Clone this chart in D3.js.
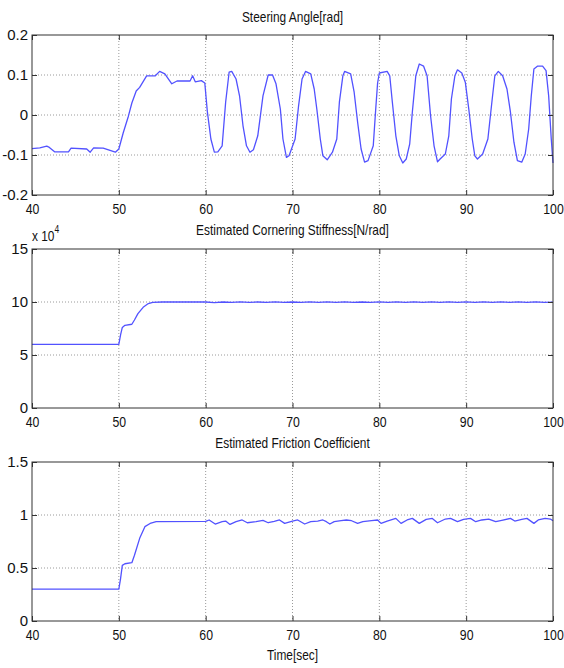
<!DOCTYPE html>
<html><head><meta charset="utf-8">
<script src="https://cdn.jsdelivr.net/npm/d3@7"></script>
<style>body{margin:0;background:#fff}svg{display:block}</style>
</head><body>
<script>
// ---- data ----
const steerT = [40,40.9,41.7,42.0,42.6,44.2,44.5,46.3,46.7,47.1,48.2,49.6,50.0,50.5,51.1,51.5,52.0,52.4,53.2,54.2,54.7,55.3,56.1,56.7,58.2,58.5,58.8,59.5,59.9,
 60.2,60.6,61.0,61.4,61.9,62.3,62.7,63.0,63.5,63.9,64.3,64.7,65.1,65.5,66.0,66.6,67.2,67.7,68.1,68.6,68.9,69.3,69.6,
 70.3,70.7,71.1,71.5,72.1,72.5,72.8,73.2,73.5,74.0,74.6,75.1,75.4,75.8,76.0,76.7,77.1,77.5,77.9,78.3,78.7,79.3,79.6,79.8,
 80.0,80.9,81.2,81.5,81.9,82.3,82.7,83.1,83.5,83.8,84.2,84.6,85.1,85.5,85.9,86.3,86.7,87.0,87.6,88.0,88.3,88.7,89.0,89.5,89.9,
 90.3,90.7,91.0,91.3,91.9,92.5,93.0,93.3,93.7,94.2,94.7,95.1,95.5,95.9,96.4,96.8,97.2,97.5,97.8,98.2,98.8,99.2,99.5,99.8,100];
const steerV = [-0.084,-0.082,-0.078,-0.081,-0.092,-0.092,-0.083,-0.085,-0.093,-0.082,-0.083,-0.093,-0.085,-0.045,-0.003,0.03,0.06,0.069,0.098,0.098,0.109,0.103,0.078,0.085,0.085,0.098,0.083,0.086,0.08,
 0.007,-0.06,-0.093,-0.092,-0.077,0.032,0.107,0.109,0.09,0.048,-0.027,-0.077,-0.093,-0.087,-0.052,0.048,0.1,0.1,0.078,0.015,-0.06,-0.106,-0.102,
 -0.06,0.023,0.09,0.109,0.103,0.065,0.015,-0.06,-0.102,-0.112,-0.093,-0.06,0.032,0.098,0.109,0.103,0.057,-0.018,-0.085,-0.118,-0.114,-0.077,0.02,0.08,
 0.105,0.109,0.098,0.032,-0.052,-0.102,-0.12,-0.11,-0.072,0.007,0.098,0.1275,0.122,0.098,-0.002,-0.077,-0.117,-0.11,-0.0975,-0.052,0.04,0.098,0.113,0.105,0.082,
 0.015,-0.06,-0.102,-0.11,-0.0975,-0.06,0.04,0.098,0.109,0.098,0.065,0.007,-0.068,-0.114,-0.118,-0.0975,-0.035,0.048,0.115,0.122,0.122,0.111,0.048,-0.06,-0.12];

const stiffT = [40,50.0,50.2,50.4,50.7,51.5,51.8,52.2,52.8,53.4,53.9,55,58,60,61,62,63,64,65,66,67,68,69,70,71,72,73,74,75,76,77,78,79,80,81,82,83,84,85,86,87,88,89,90,91,92,93,94,95,96,97,98,99,100];
const stiffV = [6.0,6.0,6.9,7.6,7.8,7.9,8.3,8.9,9.5,9.85,9.97,10.0,10.0,10.0,9.95,10.0,9.96,10.02,9.97,10.0,9.96,10.02,9.97,10.0,9.96,10.02,9.97,10.01,9.96,10.02,9.97,10.0,9.96,10.02,9.97,10.01,9.96,10.02,9.97,10.01,9.96,10.02,9.97,10.01,9.96,10.02,9.97,10.01,9.96,10.02,9.97,10.01,9.96,9.98];

const fricT = [40,50.0,50.2,50.4,50.7,51.5,51.8,52.4,53.0,53.6,54.3,60.0,60.4,61.1,61.9,62.3,62.8,63.5,64.2,64.8,65.8,66.6,67.2,67.9,68.5,69.1,70,70.6,71.4,72.1,72.9,73.5,73.9,74.3,74.8,75.6,76.2,76.8,77.5,78.1,79.1,79.8,
 80.2,80.9,81.9,82.5,83.2,83.8,84.6,85.4,86.1,86.7,87.6,88.2,89,89.7,90.5,91.1,91.8,92.6,93.4,94.1,95.1,95.6,96.4,97,97.8,98.3,99.1,99.7,100];
const fricV = [0.3,0.3,0.40,0.525,0.54,0.55,0.62,0.78,0.89,0.92,0.937,0.94,0.953,0.915,0.937,0.943,0.911,0.937,0.953,0.927,0.937,0.949,0.927,0.94,0.953,0.921,0.943,0.953,0.915,0.937,0.943,0.953,0.937,0.915,0.937,0.946,0.953,0.946,0.921,0.937,0.946,0.953,
 0.921,0.943,0.968,0.921,0.953,0.968,0.921,0.959,0.968,0.927,0.962,0.968,0.937,0.959,0.968,0.937,0.953,0.962,0.937,0.949,0.968,0.943,0.959,0.968,0.921,0.953,0.968,0.962,0.946];

const xTicks = [40,50,60,70,80,90,100];
const steerTicks = [-0.2,-0.1,0,0.1,0.2];
const steerTickLabels = ["-0.2","-0.1","0","0.1","0.2"];
const stiffTicks = [0,5,10,15];
const stiffTickLabels = ["0","5","10","15"];
const fricTicks = [0,0.5,1,1.5];
const fricTickLabels = ["0","0.5","1","1.5"];
const titles = ["Steering Angle[rad]","Estimated Cornering Stiffness[N/rad]","Estimated Friction Coefficient"];
const xLabel = "Time[sec]";

// ---- drawing ----
const W = 564, H = 668, X0 = 32, X1 = 553;
const FONT = "'Liberation Sans', Arial, Helvetica, sans-serif";
const svg = d3.select("body").append("svg").attr("width", W).attr("height", H)
  .style("font-family", FONT);
const x = d3.scaleLinear().domain([40, 100]).range([X0, X1]);

function label(txt, cx, by, size, sx) {
  const g = svg.append("g").attr("transform", `translate(${cx},${by}) scale(${sx},1)`);
  g.append("text").attr("text-anchor", "middle").attr("font-size", size).attr("fill", "#111").text(txt);
  return g;
}

const panels = [
  {top: 35, bottom: 195, domain: [-0.2, 0.2], ticks: steerTicks, labels: steerTickLabels, t: steerT, v: steerV, title: titles[0], tb: 22},
  {top: 249, bottom: 408, domain: [0, 15], ticks: stiffTicks, labels: stiffTickLabels, t: stiffT, v: stiffV, title: titles[1], tb: 235},
  {top: 462, bottom: 621, domain: [0, 1.5], ticks: fricTicks, labels: fricTickLabels, t: fricT, v: fricV, title: titles[2], tb: 448}
];

panels.forEach(p => {
  const y = d3.scaleLinear().domain(p.domain).range([p.bottom, p.top]);
  const g = svg.append("g");
  g.selectAll(".vg").data(xTicks.slice(1, -1)).join("line")
    .attr("x1", d => x(d)).attr("x2", d => x(d)).attr("y1", p.top).attr("y2", p.bottom)
    .attr("stroke", "#9a9a9a").attr("stroke-width", 1).attr("stroke-dasharray", "1,2");
  g.selectAll(".hg").data(p.ticks.slice(1, -1)).join("line")
    .attr("x1", X0).attr("x2", X1).attr("y1", d => y(d)).attr("y2", d => y(d))
    .attr("stroke", "#9a9a9a").attr("stroke-width", 1).attr("stroke-dasharray", "1,2");

  g.append("path").datum(d3.zip(p.t, p.v))
    .attr("d", d3.line().x(d => x(d[0])).y(d => y(d[1])))
    .attr("fill", "none").attr("stroke", "#5252ff").attr("stroke-width", 1.3).attr("stroke-linejoin", "round");

  const ax = [
    g.append("g").attr("transform", `translate(0,${p.bottom})`)
      .call(d3.axisBottom(x).tickValues(xTicks).tickSizeInner(-5).tickSizeOuter(0).tickPadding(8).tickFormat(d3.format("d"))),
    g.append("g").attr("transform", `translate(0,${p.top})`)
      .call(d3.axisTop(x).tickValues(xTicks).tickSizeInner(-5).tickSizeOuter(0).tickFormat("")),
    g.append("g").attr("transform", `translate(${X0},0)`)
      .call(d3.axisLeft(y).tickValues(p.ticks).tickSizeInner(-5).tickSizeOuter(0).tickPadding(4).tickFormat((d, i) => p.labels[i])),
    g.append("g").attr("transform", `translate(${X1},0)`)
      .call(d3.axisRight(y).tickValues(p.ticks).tickSizeInner(-5).tickSizeOuter(0).tickFormat(""))
  ];
  ax.forEach(a => {
    a.select(".domain").remove();
    a.selectAll(".tick line").attr("stroke", "#333");
    a.selectAll("text").attr("font-family", FONT).attr("fill", "#111");
  });
  ax[0].selectAll("text").attr("font-size", 15).attr("transform", "scale(0.82,1)");
  ax[2].selectAll("text").attr("font-size", 15);

  g.append("rect").attr("x", X0).attr("y", p.top).attr("width", X1 - X0).attr("height", p.bottom - p.top)
    .attr("fill", "none").attr("stroke", "#333").attr("stroke-width", 1);

  label(p.title, (X0 + X1) / 2, p.tb, 14, 0.85);
});

// exponent label for the middle panel
const ex = svg.append("g").attr("transform", "translate(32,241) scale(0.85,1)");
const et = ex.append("text").attr("font-size", 14).attr("fill", "#111");
et.append("tspan").text("x 10");
et.append("tspan").attr("font-size", 10).attr("dy", -8).text("4");

label(xLabel, (X0 + X1) / 2, 660, 14, 0.85);
</script>
</body></html>
